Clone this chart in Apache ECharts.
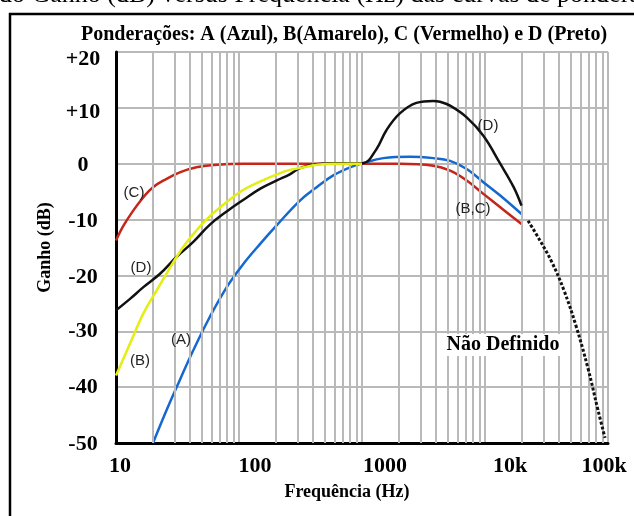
<!DOCTYPE html>
<html><head><meta charset="utf-8">
<script src="https://cdn.jsdelivr.net/npm/echarts@6/dist/echarts.min.js"></script>
<style>html,body{margin:0;padding:0;background:#fff}#c{width:634px;height:516px}</style>
</head><body><div id="c"></div>
<script>
// ---- tick labels ----
const xTickValues = [10, 100, 1000, 10000, 100000];
const xTickLabels = ['10', '100', '1000', '10k', '100k'];
const yTickValues = [20, 10, 0, -10, -20, -30, -40, -50];
const yTickLabels = ['+20', '+10', '0', '-10', '-20', '-30', '-40', '-50'];
const gridMultipliers = [2, 3, 4, 5, 6, 7, 8, 9];
const gridDecades = [10, 100, 1000, 10000];

// ---- curve A (Azul) ----
const freqA = [20, 25.8, 33, 42.5, 58, 80, 108, 148, 203, 313, 428, 584, 800, 1020, 1490, 2450, 3800, 5200, 7100, 9700, 13300, 19800];
const gainA = [-50, -44.1, -38.75, -33.4, -27.4, -22.0, -18.0, -14.4, -11.0, -6.6, -4.2, -2.1, -0.65, 0.1, 1.0, 1.25, 1.0, 0.5, -0.95, -3.3, -5.7, -9.0];
// ---- curve B (Amarelo) ----
const freqB = [10, 13, 16.7, 21.4, 33, 42.5, 58, 80, 108, 148, 203, 259, 313, 428, 584, 1000];
const gainB = [-37.9, -32.2, -26.8, -22.7, -15.8, -12.6, -9.4, -6.8, -4.7, -3.2, -1.9, -1.1, -0.77, -0.2, 0, 0];
// ---- curve C (Vermelho) ----
const freqC = [10, 11.5, 13.8, 16.7, 20, 25.8, 33, 45, 62, 108, 200, 1000, 2030, 3800, 5200, 7100, 9700, 13300, 19800];
const gainC = [-13.75, -11.1, -8.4, -6.0, -4.2, -2.7, -1.55, -0.65, -0.24, 0, 0, 0, 0, -0.35, -1.25, -3.0, -5.4, -7.8, -10.8];
// ---- curve D (Preto) ----
const freqD = [10, 13, 16.7, 22.8, 31, 42.5, 58, 80, 108, 148, 203, 259, 313, 428, 584, 800, 1020, 1310, 1580, 2030, 2770, 3800, 4300, 5200, 7100, 9700, 13300, 17100, 19800];
const gainD = [-26.25, -24.2, -22.1, -19.7, -16.7, -14.0, -10.9, -8.5, -6.5, -4.5, -3.0, -1.9, -0.8, -0.1, 0.1, 0.05, 0.1, 2.6, 6.0, 9.0, 10.9, 11.25, 11.1, 10.4, 8.3, 5.0, 0, -4.2, -7.5];
// ---- não definido (pontilhado) ----
const freqX = [22400, 28000, 35100, 43900, 54900, 68700, 82900, 94600];
const gainX = [-10.2, -13.75, -17.7, -22.7, -29.0, -36.6, -44.1, -49.1];

const zip = (f, g) => f.map((v, i) => [v, g[i]]);
const minorGrid = [];
gridDecades.forEach(d => gridMultipliers.forEach(m => minorGrid.push({ xAxis: d * m })));

const SERIF = '"Liberation Serif", "DejaVu Serif", serif';
const SANS = '"Liberation Sans", Arial, sans-serif';
const xShift = [4, 16, 23, 25, -4];
const yShift = [7, 4, 2, 2, 2, 0, 0, 1];
const xRich = {};
xShift.forEach((s, i) => {
  xRich['s' + i] = {
    fontFamily: SERIF, fontWeight: 'bold', fontSize: 22, color: '#000',
    padding: s >= 0 ? [0, 0, 0, 2 * s] : [0, -2 * s, 0, 0]
  };
});
const yRich = {};
yShift.forEach((s, i) => {
  yRich['t' + i] = {
    fontFamily: SERIF, fontWeight: 'bold', fontSize: 22, color: '#000',
    padding: [2 * s, 0, 0, 0]
  };
});

const chart = echarts.init(document.getElementById('c'), null, { renderer: 'canvas' });
const gridStyle = { color: '#b9b9b9', width: 2, type: 'solid' };
const option = {
  animation: false,
  backgroundColor: '#fff',
  grid: { left: 116, right: 26, top: 52, bottom: 73, containLabel: false },
  xAxis: {
    type: 'log', logBase: 10, min: 10, max: 100000,
    name: 'Frequência (Hz)', nameLocation: 'middle', nameGap: 40,
    nameTextStyle: { fontFamily: SERIF, fontWeight: 'bold', fontSize: 18, color: '#000', padding: [0, 30, 0, 0] },
    axisLine: { show: true, onZero: false, lineStyle: { color: '#000', width: 3 } },
    axisTick: { show: false },
    splitLine: { show: true, lineStyle: gridStyle },
    minorTick: { show: false }, minorSplitLine: { show: false },
    axisLabel: {
      margin: 12,
      formatter: v => {
        const i = xTickValues.indexOf(v);
        return i < 0 ? '' : '{s' + i + '|' + xTickLabels[i] + '}';
      },
      rich: xRich
    }
  },
  yAxis: {
    type: 'value', min: -50, max: 20, interval: 10,
    name: 'Ganho (dB)', nameLocation: 'middle', nameGap: 55, nameRotate: 90,
    nameTextStyle: { fontFamily: SERIF, fontWeight: 'bold', fontSize: 18, color: '#000' },
    axisLine: { show: true, lineStyle: { color: '#000', width: 3 } },
    axisTick: { show: false },
    splitLine: { show: true, lineStyle: gridStyle },
    axisLabel: {
      margin: 33, align: 'center',
      formatter: v => { const i = yTickValues.indexOf(v); return i < 0 ? '' : '{t' + i + '|' + yTickLabels[i] + '}'; },
      rich: yRich
    }
  },
  series: [
    {
      name: 'grade', type: 'line', data: [], z: 1, silent: true,
      markLine: { silent: true, symbol: ['none', 'none'], label: { show: false }, lineStyle: gridStyle, data: minorGrid, animation: false }
    },
    { name: 'C', type: 'line', data: zip(freqC, gainC), smooth: 0.4, symbol: 'none', lineStyle: { color: '#c4261a', width: 2.5 }, z: 3 },
    { name: 'A', type: 'line', data: zip(freqA, gainA), smooth: 0.4, symbol: 'none', lineStyle: { color: '#1468d0', width: 2.5 }, z: 4 },
    { name: 'D', type: 'line', data: zip(freqD, gainD), smooth: 0.4, symbol: 'none', lineStyle: { color: '#111', width: 2.5 }, z: 5 },
    { name: 'B', type: 'line', data: zip(freqB, gainB), smooth: 0.4, symbol: 'none', lineStyle: { color: '#e4ee10', width: 2.5 }, z: 6 },
    { name: 'ND', type: 'line', data: zip(freqX, gainX), smooth: 0.4, symbol: 'none', lineStyle: { color: '#111', width: 3, type: [3, 2] }, z: 5 }
  ],
  graphic: [
    { type: 'rect', shape: { x: 10, y: 14, width: 640, height: 520 }, style: { fill: null, stroke: '#000', lineWidth: 2.5 }, z: 10 },
    { type: 'text', x: -1, y: -5, style: { text: 'do Ganho (dB) versus Frequência (Hz) das curvas de ponderação', font: '26px ' + SERIF, fill: '#000', textAlign: 'left', textVerticalAlign: 'middle' } },
    { type: 'text', x: 344, y: 35, style: { text: 'Ponderações: A (Azul), B(Amarelo), C (Vermelho) e D (Preto)', font: 'bold 20px ' + SERIF, fill: '#000', textAlign: 'center', textVerticalAlign: 'middle' } },
    { type: 'text', x: 134, y: 193, z: 20, style: { text: '(C)', font: '15px ' + SANS, fill: '#222', textAlign: 'center', textVerticalAlign: 'middle' } },
    { type: 'text', x: 141, y: 268, z: 20, style: { text: '(D)', font: '15px ' + SANS, fill: '#222', textAlign: 'center', textVerticalAlign: 'middle' } },
    { type: 'text', x: 140, y: 361, z: 20, style: { text: '(B)', font: '15px ' + SANS, fill: '#222', textAlign: 'center', textVerticalAlign: 'middle' } },
    { type: 'text', x: 181, y: 340, z: 20, style: { text: '(A)', font: '15px ' + SANS, fill: '#222', textAlign: 'center', textVerticalAlign: 'middle' } },
    { type: 'text', x: 488, y: 126, z: 20, style: { text: '(D)', font: '15px ' + SANS, fill: '#222', textAlign: 'center', textVerticalAlign: 'middle' } },
    { type: 'text', x: 473, y: 209, z: 20, style: { text: '(B,C)', font: '15px ' + SANS, fill: '#222', textAlign: 'center', textVerticalAlign: 'middle' } },
    { type: 'text', x: 503, y: 345, z: 20, style: { text: 'Não Definido', font: 'bold 20px ' + SERIF, fill: '#000', textAlign: 'center', textVerticalAlign: 'middle', backgroundColor: '#fff', padding: [1, 2] } }
  ]
};
chart.setOption(option);
</script>
</body></html>
